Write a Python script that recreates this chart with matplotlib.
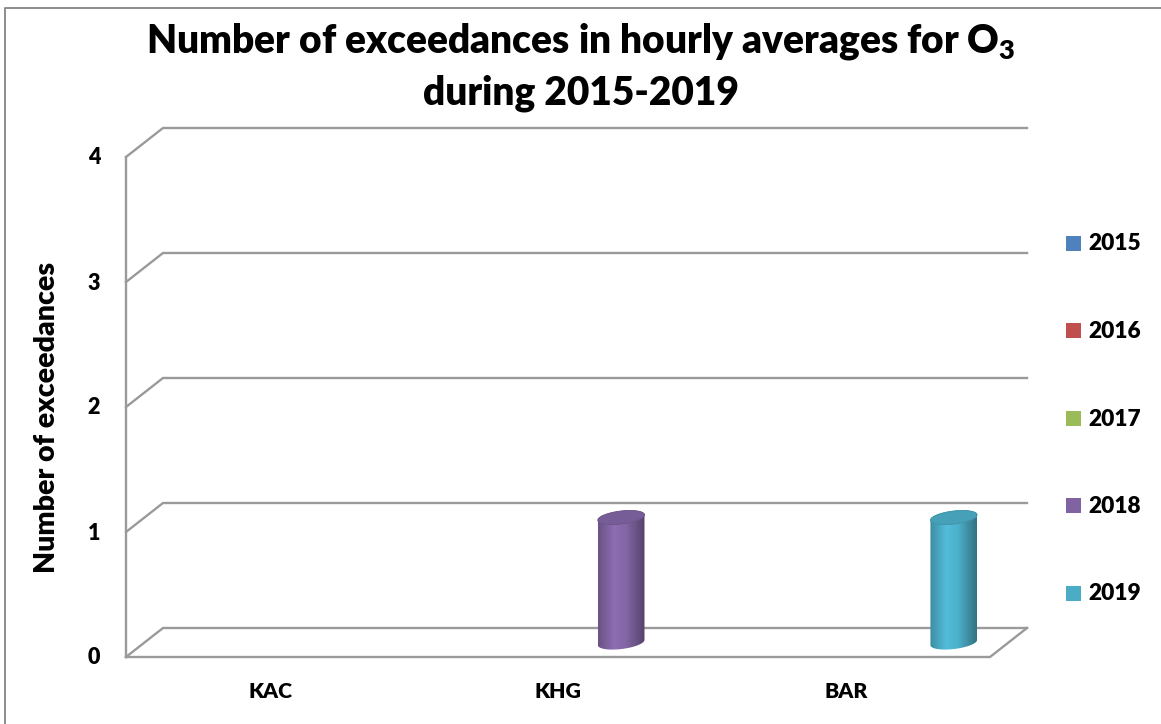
import numpy as np
import matplotlib
matplotlib.use("Agg")
import matplotlib.pyplot as plt
from matplotlib.patches import Polygon, Rectangle
from matplotlib.colors import LinearSegmentedColormap, to_rgb

WT = "heavy"
plt.rcParams["font.family"] = ["Lato", "DejaVu Sans"]
plt.rcParams["mathtext.fontset"] = "custom"
plt.rcParams["mathtext.rm"] = "Lato:heavy"
plt.rcParams["mathtext.it"] = "Lato:heavy"
plt.rcParams["mathtext.bf"] = "Lato:heavy"

# ---- data -------------------------------------------------------------
stations = ["KAC", "KHG", "BAR"]
years = ["2015", "2016", "2017", "2018", "2019"]
exc_2015 = [0, 0, 0]
exc_2016 = [0, 0, 0]
exc_2017 = [0, 0, 0]
exc_2018 = [0, 1, 0]
exc_2019 = [0, 0, 1]
y_ticks = [0, 1, 2, 3, 4]

series = [exc_2015, exc_2016, exc_2017, exc_2018, exc_2019]
colors = ["#4F81BD", "#C0504D", "#9BBB59", "#8064A2", "#4BACC6"]

# ---- figure / axes ----------------------------------------------------
W, H = 1161, 724
fig = plt.figure(figsize=(W / 100, H / 100), dpi=100)

# back wall of the 3-D plot area carries the data scale
ax = fig.add_axes([163 / W, 1 - 628 / H, 864 / W, 500 / H])
ax.set_xlim(0, len(stations))
ax.set_ylim(0, 4)
ax.axis("off")

# overlay in pixel units (y downwards) for the oblique projection
pax = fig.add_axes([0, 0, 1, 1])
pax.set_xlim(0, W)
pax.set_ylim(H, 0)
pax.axis("off")

DEPTH = (-37.0, 29.0)  # shift from back wall to front edge, pixels


def px(x, v, d=0.0):
    """Data point on the back wall pushed forward by depth fraction d."""
    X, Y = ax.transData.transform((x, v))
    return X + d * DEPTH[0], H - Y + d * DEPTH[1]


GRID = "#9a9a9a"
LW = 1.7

# gridlines: back wall + left wall diagonals
for v in y_ticks:
    lf = px(0, v, 1)
    lb = px(0, v, 0)
    rb = px(len(stations), v, 0)
    pax.plot([lf[0], lb[0], rb[0]], [lf[1], lb[1], rb[1]],
             color=GRID, lw=LW, solid_joinstyle="miter", zorder=1)

# left front edge of the side wall
a, b = px(0, 0, 1), px(0, y_ticks[-1], 1)
pax.plot([a[0], b[0]], [a[1], b[1]], color=GRID, lw=LW, zorder=1)

# floor outline
f0, f1, f2 = px(0, 0, 1), px(len(stations), 0, 1), px(len(stations), 0, 0)
pax.plot([f0[0], f1[0], f2[0]], [f0[1], f1[1], f2[1]],
         color=GRID, lw=LW, solid_joinstyle="miter", zorder=1)

# value tick labels on the front edge
for v in y_ticks:
    x, y = px(0, v, 1)
    pax.text(x - 32, y + 1, str(v), ha="center", va="center",
             fontsize=15.5, fontweight=WT, color="black")

# category labels under the floor
for i, name in enumerate(stations):
    x, y = px(i + 0.5, 0, 1)
    pax.text(x, y + 35, name, ha="center", va="center",
             fontsize=15.3, fontweight=WT, color="black")


# ---- cylinders ----------------------------------------------------------
def ellipse_pts(cx, cy, a=23.5, b=6.5, tilt=7.0, n=240):
    t = np.linspace(0, 2 * np.pi, n, endpoint=False)
    ex, ey = a * np.cos(t), b * np.sin(t)
    ang = np.deg2rad(tilt)
    X = cx + ex * np.cos(ang) + ey * np.sin(ang)
    Y = cy - ex * np.sin(ang) + ey * np.cos(ang)
    return np.column_stack([X, Y])


def convex_hull(points):
    pts = sorted(map(tuple, points))

    def cross(o, p, q):
        return (p[0] - o[0]) * (q[1] - o[1]) - (p[1] - o[1]) * (q[0] - o[0])

    lower, upper = [], []
    for p in pts:
        while len(lower) >= 2 and cross(lower[-2], lower[-1], p) <= 0:
            lower.pop()
        lower.append(p)
    for p in reversed(pts):
        while len(upper) >= 2 and cross(upper[-2], upper[-1], p) <= 0:
            upper.pop()
        upper.append(p)
    return np.array(lower[:-1] + upper[:-1])


def shade(color, f):
    r, g, b = to_rgb(color)
    return tuple(min(1.0, c * f) for c in (r, g, b))


SPACING = 0.155
for s, vals in enumerate(series):
    base = colors[s]
    cmap = LinearSegmentedColormap.from_list(
        f"cyl{s}",
        [(0.0, shade(base, 0.82)), (0.35, shade(base, 1.10)),
         (0.6, shade(base, 1.02)), (1.0, shade(base, 0.66))])
    for i, v in enumerate(vals):
        if v <= 0:
            continue
        xc = i + 0.5 + (s - 2) * SPACING
        bx, by = px(xc, 0, 0.5)
        tx, ty = px(xc, v, 0.5)
        bot = ellipse_pts(bx, by)
        top = ellipse_pts(tx, ty)
        hull = convex_hull(np.vstack([bot, top]))
        body = Polygon(hull, closed=True, facecolor="none", edgecolor="none",
                       transform=pax.transData)
        pax.add_patch(body)
        x0, x1 = hull[:, 0].min(), hull[:, 0].max()
        y0, y1 = hull[:, 1].min(), hull[:, 1].max()
        grad = np.linspace(0, 1, 256)[None, :]
        im = pax.imshow(grad, extent=[x0, x1, y1, y0], cmap=cmap,
                        aspect="auto", interpolation="bilinear", zorder=3)
        im.set_clip_path(body)
        pax.add_patch(Polygon(top, closed=True, facecolor=shade(base, 0.93),
                              edgecolor=shade(base, 0.85), lw=0.6, zorder=4))

pax.set_xlim(0, W)
pax.set_ylim(H, 0)
pax.set_aspect("auto")

# ---- legend -------------------------------------------------------------
for k, (yr, c) in enumerate(zip(years, colors)):
    yc = 243 + k * 87.5
    pax.add_patch(Rectangle((1066, yc - 7.5), 15, 15, facecolor=c,
                            edgecolor="none", zorder=5))
    pax.text(1088, yc + 1, yr, ha="left", va="center", fontsize=16.3,
             fontweight=WT, color="black")

# ---- titles -------------------------------------------------------------
pax.text(47, 417, "Number of exceedances", rotation=90, ha="center",
         va="center", fontsize=20.5, fontweight=WT, color="black")
pax.text(581, 42, r"Number of exceedances in hourly averages for O$_{\mathrm{3}}$",
         ha="center", va="center", fontsize=28, fontweight=WT, color="black")
pax.text(581, 93, "during 2015-2019", ha="center", va="center",
         fontsize=28, fontweight=WT, color="black")

# chart frame
pax.plot([5, 5, W + 5], [H + 5, 8, 8], color="#8c8c8c", lw=1.4,
         clip_on=False, zorder=0)

fig.savefig("out.png", dpi=100)
